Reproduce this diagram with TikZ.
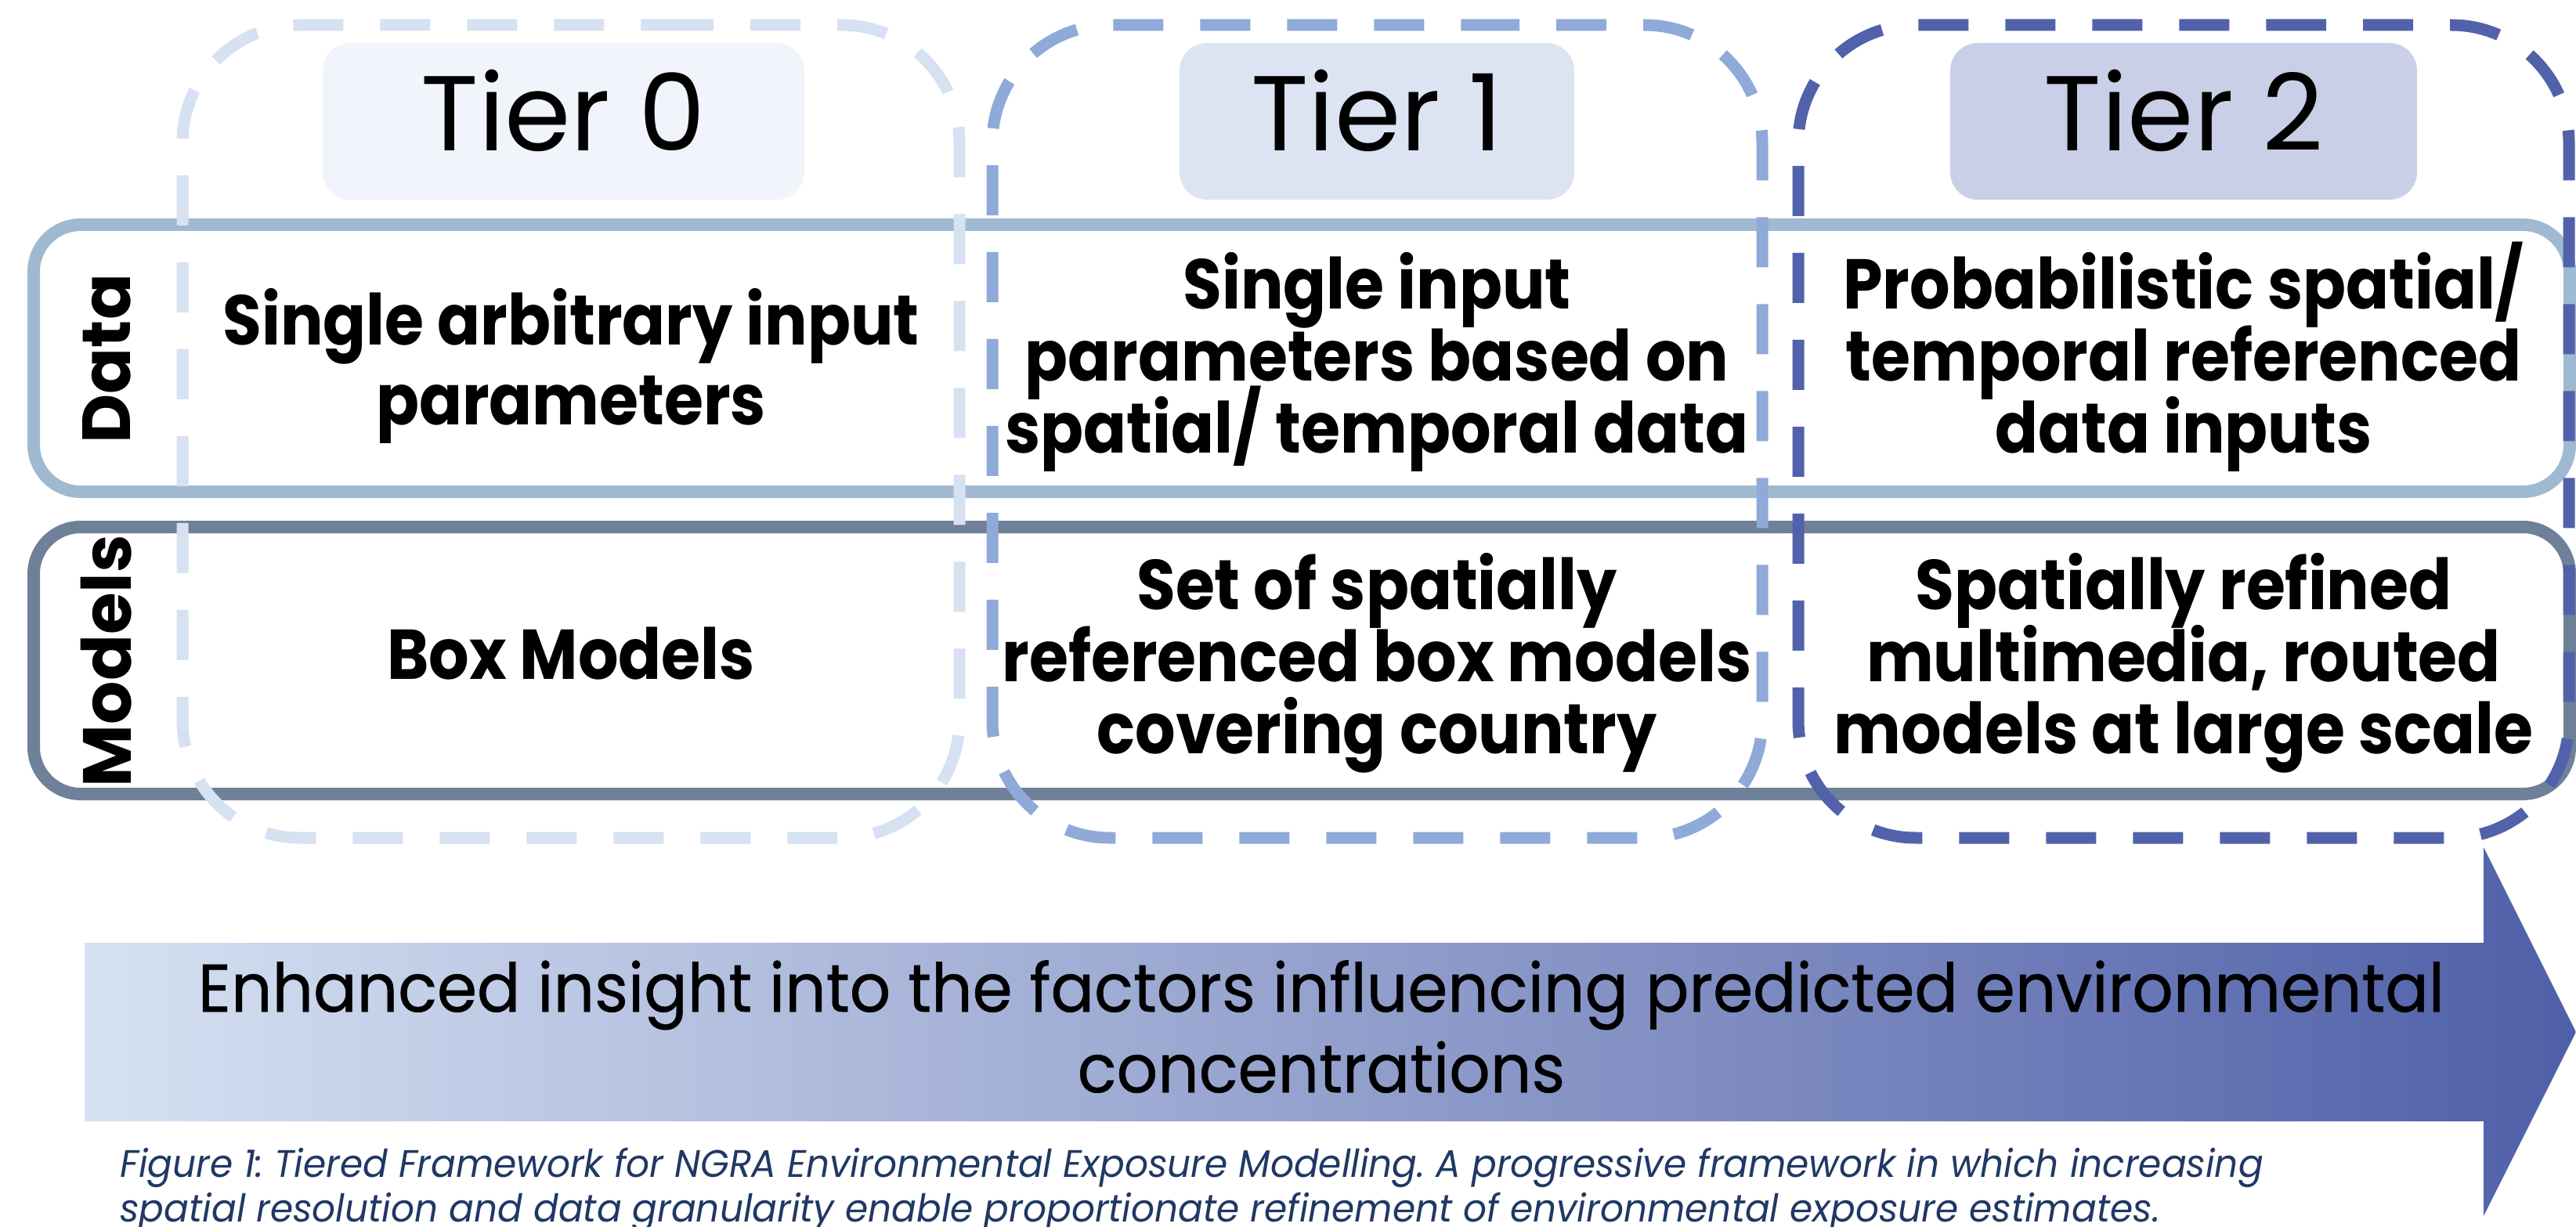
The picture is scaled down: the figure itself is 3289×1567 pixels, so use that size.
\documentclass[tikz,border=0pt]{standalone}
\usepackage{fontspec}
\setmainfont{Poppins}
\newfontfamily\bodyfont{Poppins}[FakeStretch=0.90]
\newfontfamily\arrowfont{Poppins}[FakeStretch=0.955, FakeBold=0.6]
\newfontfamily\capfont{Poppins}[FakeStretch=0.96]

\definecolor{tzero}{HTML}{D6E1F1}
\definecolor{tone}{HTML}{8FA9D8}
\definecolor{ttwo}{HTML}{5262AA}
\definecolor{fzero}{HTML}{F1F4FA}
\definecolor{fone}{HTML}{DCE3F2}
\definecolor{ftwo}{HTML}{C9CFE6}
\definecolor{datac}{HTML}{9FBAD0}
\definecolor{modelc}{HTML}{6F8099}
\definecolor{capc}{HTML}{203864}
\definecolor{arrowl}{HTML}{D6E1F2}
\definecolor{arrowm}{HTML}{8FA8D8}
\definecolor{arrowr}{HTML}{5060A8}

\begin{document}
\begin{tikzpicture}[x=0.5pt,y=-0.5pt,
  tierbox/.style={line width=7.5pt, rounded corners=75pt,
    dash pattern=on 32pt off 23.5pt, dash phase=16pt},
  rowbox/.style={line width=8pt, rounded corners=30pt},
  tierlabel/.style={rounded corners=17.5pt, inner sep=0pt,
    minimum height=100pt, text height=38pt, text depth=0pt,
    font=\fontsize{68}{68}\selectfont},
  bodytxt/.style={anchor=base, inner sep=0pt,
    font=\bodyfont\bfseries\fontsize{45}{45}\selectfont},
  sidetxt/.style={rotate=90, inner sep=0pt,
    font=\bfseries\fontsize{43.5}{43.5}\selectfont},
  arrowtxt/.style={anchor=base, inner sep=0pt,
    font=\arrowfont\fontsize{43}{43}\selectfont},
  captxt/.style={anchor=base west, inner sep=0pt, text=capc,
    font=\capfont\itshape\frenchspacing\fontsize{24.5}{24.5}\selectfont},
]
\useasboundingbox (0,0) rectangle (3289,1567);

% row frames
\draw[rowbox, draw=datac] (43,287) rectangle (3281,628);
\draw[rowbox, draw=modelc] (43,673) rectangle (3281,1014);

% tier frames
\draw[tierbox, draw=tzero] (729,32) -| (1225,1070) -| (233,32) -- cycle;
\draw[tierbox, draw=tone] (1758,32) -| (2250,1070) -| (1267,32) -- cycle;
\draw[tierbox, draw=ttwo] (2788,32) -| (3280,1070) -| (2296,32) -- cycle;

% tier headings
\node[tierlabel, fill=fzero, minimum width=307.5pt] (tier0) at (719.5,155) {Tier 0};
\node[tierlabel, fill=fone, minimum width=252pt] (tier1) at (1758,155) {Tier 1};
\node[tierlabel, fill=ftwo, minimum width=298pt] (tier2) at (2788,155) {Tier 2};

% row headings
\node[sidetxt] (datalbl) at (136,458) {Data};
\node[sidetxt] (modellbl) at (136,844) {Models};

% tier 0 cells
\node[bodytxt] (d0a) at (729,441) {Single arbitrary input};
\node[bodytxt] (d0b) at (729,543) {parameters};
\node[bodytxt] (m0a) at (729,867) {Box Models};

% tier 1 cells
\node[bodytxt] (d1a) at (1758,395) {Single input};
\node[bodytxt] (d1b) at (1758,487) {parameters based on};
\node[bodytxt] (d1c) at (1758,579) {spatial/ temporal data};
\node[bodytxt] (m1a) at (1758,778) {Set of spatially};
\node[bodytxt] (m1b) at (1758,870) {referenced box models};
\node[bodytxt] (m1c) at (1758,962) {covering country};

% tier 2 cells
\node[bodytxt] (d2a) at (2788,395) {Probabilistic spatial/};
\node[bodytxt] (d2b) at (2788,487) {temporal referenced};
\node[bodytxt] (d2c) at (2788,579) {data inputs};
\node[bodytxt] (m2a) at (2788,778) {Spatially refined};
\node[bodytxt] (m2b) at (2788,870) {multimedia, routed};
\node[bodytxt] (m2c) at (2788,962) {models at large scale};

% progression arrow
\shade[left color=arrowl, middle color=arrowm, right color=arrowr]
  (108,1204) -- (3171,1204) -- (3171,1082) -- (3289,1318)
  -- (3171,1553) -- (3171,1432) -- (108,1432) -- cycle;
\node[arrowtxt] (arr1) at (1687,1292)
  {Enhanced insight into the factors influencing predicted environmental};
\node[arrowtxt] (arr2) at (1687,1395) {concentrations};

% caption
\node[captxt] (cap1) at (153,1503) {Figure 1: Tiered Framework for NGRA Environmental Exposure Modelling. A progressive framework in which increasing};
\node[captxt] (cap2) at (153,1560) {spatial resolution and data granularity enable proportionate refinement of environmental exposure estimates.};
\end{tikzpicture}
\end{document}
